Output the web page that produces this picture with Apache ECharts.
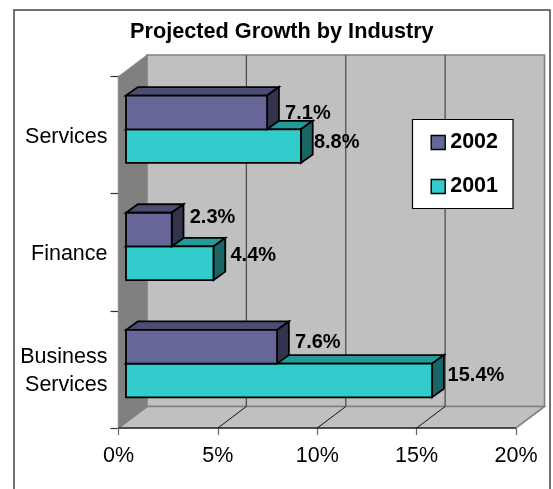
<!DOCTYPE html>
<html><head><meta charset="utf-8">
<style>html,body{margin:0;padding:0;background:#fff}#c{width:553px;height:489px}</style>
<script src="https://cdn.jsdelivr.net/npm/echarts@6/dist/echarts.min.js"></script></head>
<body><div id="c"></div>
<script>
const categories = ['Business\nServices', 'Finance', 'Services'];
const values2002 = [7.6, 2.3, 7.1];
const values2001 = [15.4, 4.4, 8.8];
const valueTicks = [0, 5, 10, 15, 20];
const labelNudge2002 = [[18, -4], [18, -12], [18, 1]];
const labelNudge2001 = [[15.5, -5], [17, -8], [13, -4]];

const FONT = '"Liberation Sans", Arial, sans-serif';
const WALL = [28.5, -21.5];       // floor/back wall depth
const BAR_IN = [7.5, -5.8];       // gap from front plane to the bar's front
const BAR_D = [11.8, -8.5];       // bar depth
const BAR_H = 0.2875;             // bar thickness as share of a band

function poly(points, fill, stroke, lw) {
  return { type: 'polygon', shape: { points }, style: { fill, stroke, lineWidth: lw, lineJoin: 'miter' } };
}
function line(a, b, stroke, lw) {
  return { type: 'line', shape: { x1: a[0], y1: a[1], x2: b[0], y2: b[1] }, style: { stroke, lineWidth: lw } };
}
function wallsItem(params, api) {
  const lo = api.coord([0, 0]);
  const hi = api.coord([20, 2]);
  const band = api.size([0, 1])[1];
  const x0 = lo[0], x1 = hi[0], yb = lo[1] + band / 2, yt = hi[1] - band / 2;
  const [dx, dy] = WALL;
  const kids = [
    poly([[x0, yt], [x0 + dx, yt + dy], [x0 + dx, yb + dy], [x0, yb]], '#808080', '#8c8c8c', 1),
    poly([[x0 + dx, yt + dy], [x1 + dx, yt + dy], [x1 + dx, yb + dy], [x0 + dx, yb + dy]], '#c0c0c0', '#808080', 1.6),
    poly([[x0, yb], [x0 + dx, yb + dy], [x1 + dx, yb + dy], [x1, yb]], '#c0c0c0', '#808080', 1.6)
  ];
  valueTicks.slice(1, -1).forEach(v => {
    const x = api.coord([v, 0])[0];
    kids.push(line([x + dx, yt + dy], [x + dx, yb + dy], '#505050', 1.3));
    kids.push(line([x, yb], [x + dx, yb + dy], '#111', 1));
  });
  kids.push(line([x0, yb], [x1, yb], '#000', 1.2));
  return { type: 'group', children: kids };
}
function barItem(shift, front, top, side, nudges) {
  return function (params, api) {
    const v = api.value(0), c = api.value(1);
    const p0 = api.coord([0, c]), p1 = api.coord([v, c]);
    const band = api.size([0, 1])[1], h = band * BAR_H;
    const x0 = p0[0] + BAR_IN[0], x1 = p1[0] + BAR_IN[0];
    const yt = p0[1] + BAR_IN[1] + shift * h, yb = yt + h;
    const [dx, dy] = BAR_D, lw = 1.8;
    const n = nudges[params.dataIndex];
    return { type: 'group', children: [
      poly([[x0, yt], [x0 + dx, yt + dy], [x1 + dx, yt + dy], [x1, yt]], top, '#000', lw),
      poly([[x1, yt], [x1 + dx, yt + dy], [x1 + dx, yb + dy], [x1, yb]], side, '#000', lw),
      poly([[x0, yt], [x1, yt], [x1, yb], [x0, yb]], front, '#000', lw),
      { type: 'text', z2: 10, style: { x: x1 + n[0], y: (yt + yb) / 2 + n[1], text: v.toFixed(1) + '%',
        font: 'bold 20px ' + FONT, fill: '#000', align: 'left', verticalAlign: 'middle' } }
    ] };
  };
}
const chart = echarts.init(document.getElementById('c'), null, { renderer: 'canvas' });
chart.setOption({
  animation: false,
  backgroundColor: '#fff',
  title: { text: 'Projected Growth by Industry', left: 130, top: 21,
    padding: 0, textStyle: { fontFamily: FONT, fontWeight: 'bold', fontSize: 21.7, color: '#000' } },
  graphic: [{ type: 'rect', z: -1, shape: { x: 14, y: 10, width: 536, height: 500 },
    style: { fill: '#fff', stroke: '#444', lineWidth: 1.5 } }],
  legend: { data: ['2002', '2001'], orient: 'vertical', left: 412.5, top: 119.5, backgroundColor: '#fff',
    borderColor: '#000', borderWidth: 1.2, borderRadius: 0,
    padding: [12, 15, 11, 18], itemWidth: 14, itemHeight: 14, itemGap: 22, icon: 'rect',
    itemStyle: { borderColor: '#000', borderWidth: 1.4 },
    textStyle: { fontFamily: FONT, fontWeight: 'bold', fontSize: 21.5, color: '#000', padding: [0, 0, 0, 0] } },
  grid: { left: 118.5, top: 76.5, width: 397.5, height: 351.5 },
  xAxis: { type: 'value', min: 0, max: 20, interval: 5,
    axisLine: { show: false },
    axisTick: { show: true, length: 7, lineStyle: { color: '#666', width: 1.2 } },
    splitLine: { show: false },
    axisLabel: { margin: 17, formatter: '{value}%', fontFamily: FONT, fontSize: 21.5, color: '#000', hideOverlap: false } },
  yAxis: { type: 'category', data: categories,
    axisLine: { show: true, lineStyle: { color: '#000', width: 1.2 } },
    axisTick: { show: true, length: 8, alignWithLabel: false, lineStyle: { color: '#333', width: 1.2 } },
    axisLabel: { margin: 11, color: '#000', align: 'right', interval: 0,
      formatter: s => s.split('\n').map(t => '{a|' + t + '}').join('\n'),
      rich: { a: { fontFamily: FONT, fontSize: 21.5, color: '#000', lineHeight: 28, padding: [4, 0, 0, 0] } } } },
  series: [
    { type: 'custom', name: 'walls', z: 1, silent: true, renderItem: wallsItem, data: [[0, 0]],
      encode: { x: 0, y: 1 }, clip: false },
    { type: 'custom', name: '2001', z: 2, clip: false, itemStyle: { color: '#33cccc' },
      renderItem: barItem(0, '#33cccc', '#269999', '#1a6666', labelNudge2001),
      data: values2001.map((v, i) => [v, i]), encode: { x: 0, y: 1 } },
    { type: 'custom', name: '2002', z: 3, clip: false, itemStyle: { color: '#666699' },
      renderItem: barItem(-1, '#666699', '#4d4d73', '#33334d', labelNudge2002),
      data: values2002.map((v, i) => [v, i]), encode: { x: 0, y: 1 } }
  ]
});
</script></body></html>
